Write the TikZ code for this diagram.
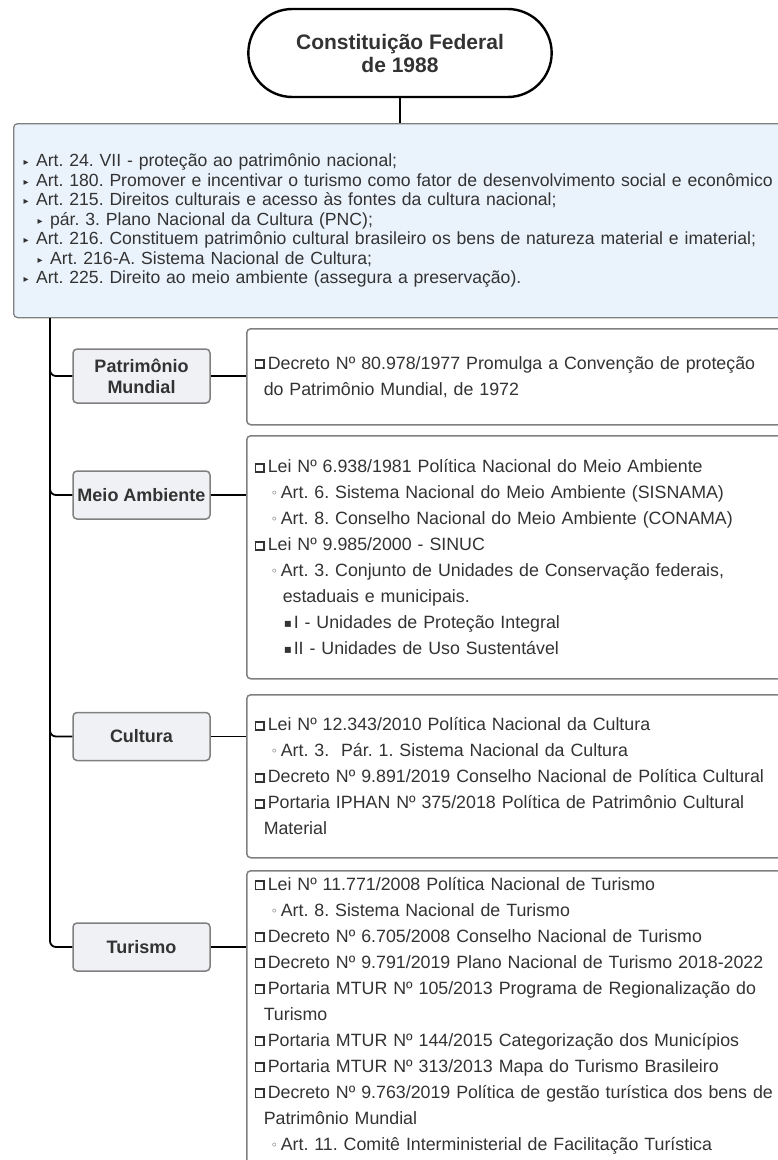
\documentclass[tikz,border=0pt]{standalone}
\usepackage{fontspec}
\setmainfont{Liberation Sans}
\newfontfamily\glyphfont{DejaVu Sans}
\usetikzlibrary{shapes.misc}
\definecolor{ink}{RGB}{51,51,51}
\definecolor{boxline}{RGB}{128,128,128}
\definecolor{artfill}{RGB}{234,242,252}
\definecolor{catfill}{RGB}{240,241,244}
\frenchspacing
\newcommand{\tribul}{\makebox[12.5pt][l]{\raisebox{1pt}{\glyphfont\fontsize{10}{10}\selectfont ▸}}}
\newcommand{\sqbul}{\makebox[13pt][l]{\raisebox{1.7pt}{\setlength{\fboxsep}{0pt}\setlength{\fboxrule}{1.7pt}\fbox{\rule{0pt}{6.5pt}\rule{6.8pt}{0pt}}}}}
\newcommand{\cirbul}{\hspace*{16pt}\makebox[10pt][l]{\raisebox{1pt}{\glyphfont\fontsize{12}{12}\selectfont ◦}}}
\newcommand{\smsqbul}{\hspace*{29pt}\makebox[10pt][l]{\raisebox{1pt}{\glyphfont\fontsize{12}{12}\selectfont ▪}}}
\begin{document}
\begin{tikzpicture}[x=1pt, y=-1pt,
    cfbox/.style={rounded rectangle, draw=black, line width=2.4pt, fill=white,
                  minimum width=310pt, minimum height=88pt, align=center, text=ink,
                  font=\fontsize{21}{23}\selectfont\bfseries},
    artbox/.style={draw=boxline, fill=artfill, rounded corners=4pt, line width=1.3pt,
                   anchor=north west, text width=770pt, inner xsep=10pt, align=left,
                   text=ink, font=\fontsize{17.6}{19.5}\selectfont},
    topic/.style={draw=boxline, fill=catfill, rounded corners=4pt, line width=1.5pt,
                  minimum width=137pt, minimum height=48pt, align=center, text=ink,
                  font=\fontsize{18}{21}\selectfont\bfseries},
    listbox/.style={draw=boxline, fill=white, rounded corners=4pt, line width=1.5pt,
                    anchor=north west, text width=540pt, inner xsep=8pt, align=left,
                    text=ink, font=\fontsize{17.8}{26}\selectfont},
    link/.style={draw=black, line width=1.8pt, rounded corners=6pt},
  ]
  \node[cfbox] (cf) at (400,53) {Constituição Federal\\de 1988};

  \node[artbox, minimum height=194pt] (arts) at (13,123) {%
    \tribul Art. 24. VII - proteção ao patrimônio nacional;\\
    \tribul Art. 180. Promover e incentivar o turismo como fator de desenvolvimento social e econômico\\
    \tribul Art. 215. Direitos culturais e acesso às fontes da cultura nacional;\\
    \hspace*{14pt}\tribul pár. 3. Plano Nacional da Cultura (PNC);\\
    \tribul Art. 216. Constituem patrimônio cultural brasileiro os bens de natureza material e imaterial;\\
    \hspace*{14pt}\tribul Art. 216-A. Sistema Nacional de Cultura;\\
    \tribul Art. 225. Direito ao meio ambiente (assegura a preservação).};
  \coordinate (trunk) at ([xshift=37pt]arts.south west);

  % topics on the trunk
  \node[topic, minimum height=54pt] (patr) at (141.5,376) {Patrimônio\\Mundial};
  \node[topic] (amb) at (141.5,495) {Meio Ambiente};
  \node[topic] (cult) at (141.5,736.5) {Cultura};
  \node[topic] (tur) at (141.5,947) {Turismo};

  % legislation lists
  \node[listbox, minimum height=96pt] (patrlist) at (246,328) {%
    \sqbul Decreto Nº 80.978/1977 Promulga a Convenção de proteção\\
    \hspace*{9pt}do Patrimônio Mundial, de 1972};
  \node[listbox, minimum height=243pt] (amblist) at (246,435) {%
    \sqbul Lei Nº 6.938/1981 Política Nacional do Meio Ambiente\\
    \cirbul Art. 6. Sistema Nacional do Meio Ambiente (SISNAMA)\\
    \cirbul Art. 8. Conselho Nacional do Meio Ambiente (CONAMA)\\
    \sqbul Lei Nº 9.985/2000 - SINUC\\
    \cirbul Art. 3. Conjunto de Unidades de Conservação federais,\\
    \hspace*{28pt}estaduais e municipais.\\
    \smsqbul I - Unidades de Proteção Integral\\
    \smsqbul II - Unidades de Uso Sustentável};
  \node[listbox, minimum height=163pt] (cultlist) at (246,694) {%
    \sqbul Lei Nº 12.343/2010 Política Nacional da Cultura\\
    \cirbul Art. 3.\ \ Pár. 1. Sistema Nacional da Cultura\\
    \sqbul Decreto Nº 9.891/2019 Conselho Nacional de Política Cultural\\
    \sqbul Portaria IPHAN Nº 375/2018 Política de Patrimônio Cultural\\
    \hspace*{9pt}Material};
  \node[listbox, inner ysep=6.4pt, text depth=300pt] (turlist) at (246,870) {%
    \sqbul Lei Nº 11.771/2008 Política Nacional de Turismo\\
    \cirbul Art. 8. Sistema Nacional de Turismo\\
    \sqbul Decreto Nº 6.705/2008 Conselho Nacional de Turismo\\
    \sqbul Decreto Nº 9.791/2019 Plano Nacional de Turismo 2018-2022\\
    \sqbul Portaria MTUR Nº 105/2013 Programa de Regionalização do\\
    \hspace*{9pt}Turismo\\
    \sqbul Portaria MTUR Nº 144/2015 Categorização dos Municípios\\
    \sqbul Portaria MTUR Nº 313/2013 Mapa do Turismo Brasileiro\\
    \sqbul Decreto Nº 9.763/2019 Política de gestão turística dos bens de\\
    \hspace*{9pt}Patrimônio Mundial\\
    \cirbul Art. 11. Comitê Interministerial de Facilitação Turística};

  \draw[link] (cf.south) -- (cf.south |- arts.north);
  \foreach \k in {patr, amb, cult, tur}{
    \draw[link] (trunk) |- (\k.west);
    \draw[link] (\k.east) -- (\k.east -| \k list.west);
  }

  \pgfresetboundingbox
  \useasboundingbox (0,0) rectangle (777,1160);
\end{tikzpicture}
\end{document}
